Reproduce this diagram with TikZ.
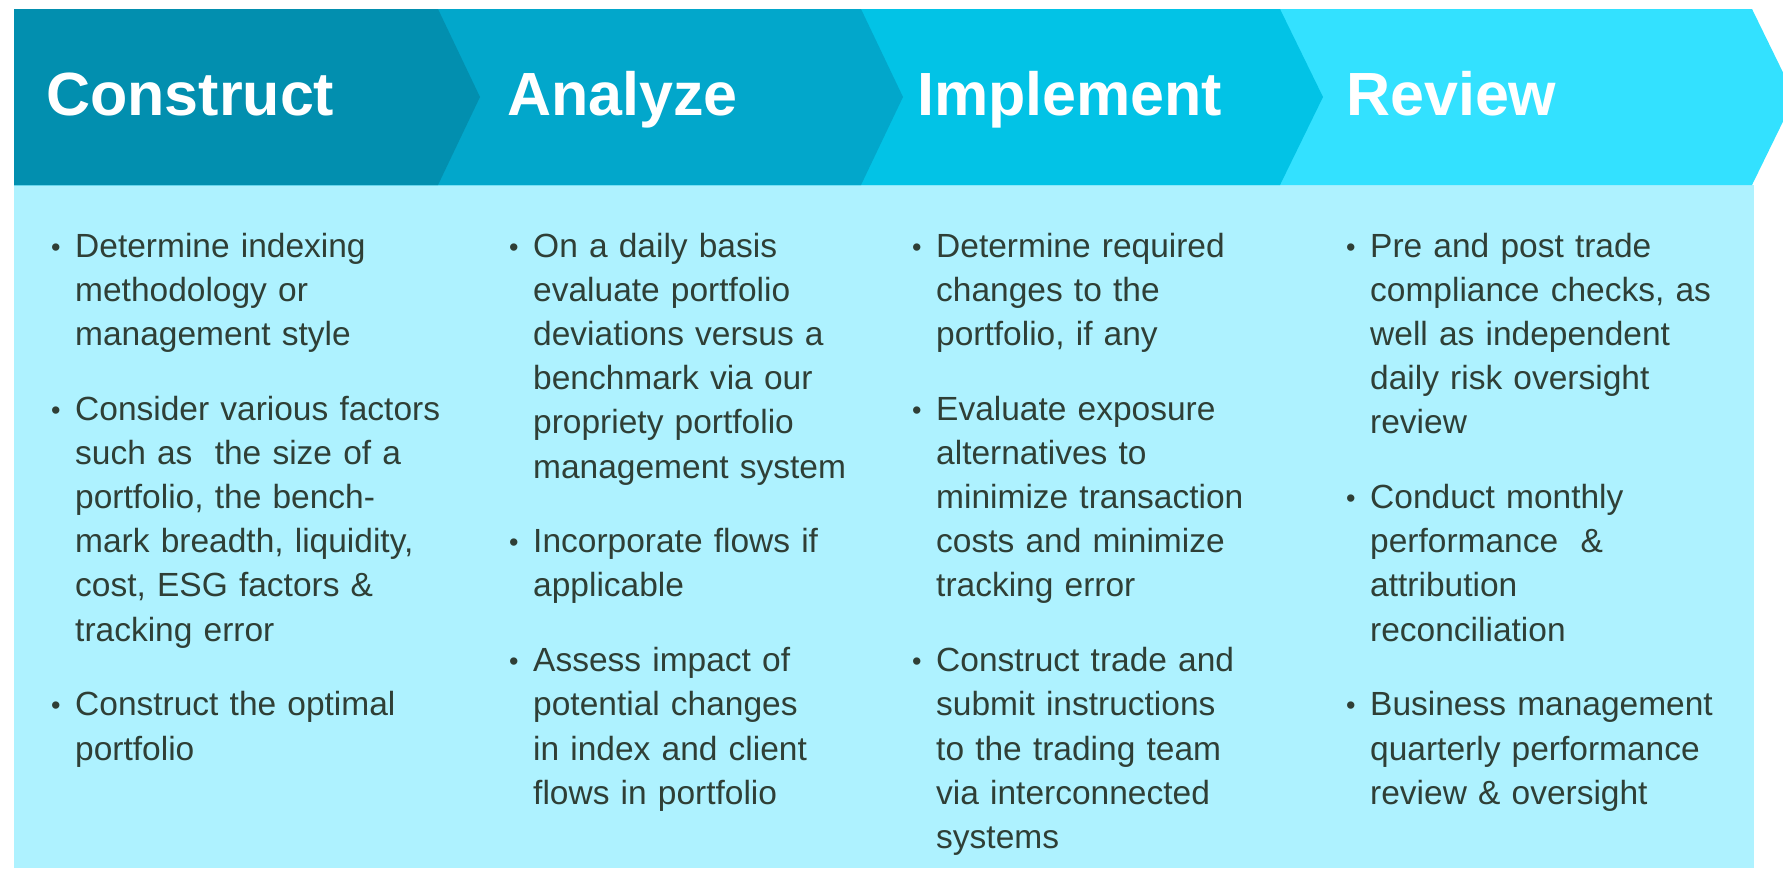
\documentclass[tikz,border=0pt]{standalone}
\usepackage{fontspec}
\setmainfont{Liberation Sans}
\newfontfamily\hdfont{Liberation Sans}
\definecolor{cA}{HTML}{028FAF}
\definecolor{cB}{HTML}{02A7CB}
\definecolor{cC}{HTML}{02C3E6}
\definecolor{cD}{HTML}{33E1FF}
\definecolor{bodybg}{HTML}{AEF2FF}
\definecolor{bodytxt}{HTML}{2F3F36}
\newcommand\nl{\hfil\break}
\newcommand\bmark{\llap{\makebox[24pt][l]{\raisebox{1pt}{\fontsize{27}{27}\selectfont •}}}}
\newcommand\bfirst{\hangindent=24pt\hangafter=0 \bmark}
\newcommand\bitem{\par\hangindent=24pt\hangafter=0\noindent\bmark}
\tikzset{
  headtxt/.style={anchor=base west, inner sep=0pt, text=white, font=\hdfont\bfseries\fontsize{61}{70}\selectfont},
  coltxt/.style={anchor=base west, inner sep=0pt, text=bodytxt, text width=440pt, align=left,
     font=\fontsize{33.5}{44.2}\selectfont},
}
\begin{document}
\begin{tikzpicture}[x=1pt,y=-1pt]
\useasboundingbox (0,0) rectangle (1783,868);
\clip (0,0) rectangle (1783,868);
\fill[white] (0,0) rectangle (1783,868);
% body
\fill[bodybg] (14,185) rectangle (1754,868);
% chevrons
\fill[cD] (14,9) -- (1752,9) -- (1795,97) -- (1752,185) -- (14,185) -- cycle;
\fill[cC] (14,9) -- (1280,9) -- (1323,97) -- (1280,185) -- (14,185) -- cycle;
\fill[cB] (14,9) -- (861,9) -- (903,97) -- (861,185) -- (14,185) -- cycle;
\fill[cA] (14,9) -- (438,9) -- (480,97) -- (438,185) -- (14,185) -- cycle;
% headings
\node[headtxt] (h1) at (46,115) {Construct};
\node[headtxt] (h2) at (507,115) {Analyze};
\node[headtxt] (h3) at (917,115) {Implement};
\node[headtxt] (h4) at (1346,115) {Review};
% columns
\node[coltxt] (b1) at (51,257) {\setlength{\parskip}{30.5pt}%
\bfirst Determine indexing\nl methodology or\nl management style
\bitem Consider various factors\nl such as\ \ the size of a\nl portfolio, the bench-\nl mark breadth, liquidity,\nl cost, ESG factors \&\nl tracking error
\bitem Construct the optimal\nl portfolio\par};
\node[coltxt] (b2) at (509,257) {\setlength{\parskip}{30.5pt}%
\bfirst On a daily basis\nl evaluate portfolio\nl deviations versus a\nl benchmark via our\nl propriety portfolio\nl management system
\bitem Incorporate flows if\nl applicable
\bitem Assess impact of\nl potential changes\nl in index and client\nl flows in portfolio\par};
\node[coltxt] (b3) at (912,257) {\setlength{\parskip}{30.5pt}%
\bfirst Determine required\nl changes to the\nl portfolio, if any
\bitem Evaluate exposure\nl alternatives to\nl minimize transaction\nl costs and minimize\nl tracking error
\bitem Construct trade and\nl submit instructions\nl to the trading team\nl via interconnected\nl systems\par};
\node[coltxt] (b4) at (1346,257) {\setlength{\parskip}{30.5pt}%
\bfirst Pre and post trade\nl compliance checks, as\nl well as independent\nl daily risk oversight\nl review
\bitem Conduct monthly\nl performance\ \ \&\nl attribution\nl reconciliation
\bitem Business management\nl quarterly performance\nl review \& oversight\par};
\end{tikzpicture}
\end{document}
